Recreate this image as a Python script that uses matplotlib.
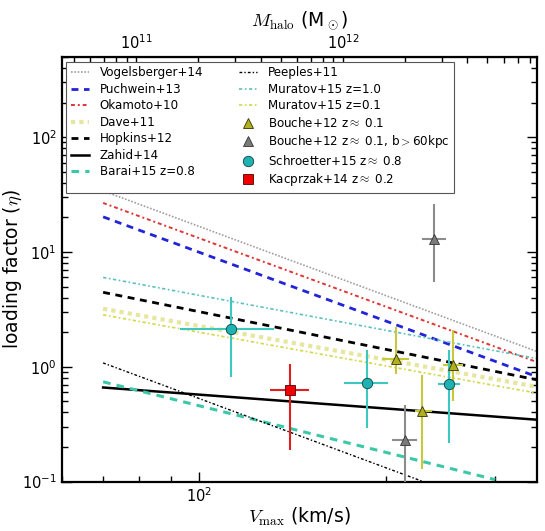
import matplotlib
matplotlib.use('Agg')
import matplotlib.pyplot as plt
from matplotlib.ticker import NullFormatter, FixedLocator
import numpy as np

plt.rcParams['font.family'] = ['DejaVu Sans']
plt.rcParams['mathtext.fontset'] = 'cm'

# model relations (power laws -> straight lines in log-log), V_max in km/s
v_vogelsberger, eta_vogelsberger = [70, 350], [34.0, 1.36]
v_puchwein, eta_puchwein = [70, 350], [20.2, 0.82]
v_okamoto, eta_okamoto = [70, 350], [26.7, 1.10]
v_dave, eta_dave = [70, 350], [3.2, 0.67]
v_hopkins, eta_hopkins = [70, 350], [4.45, 0.77]
v_zahid, eta_zahid = [70, 350], [0.66, 0.346]
v_barai, eta_barai = [70, 300], [0.74, 0.104]
v_peeples, eta_peeples = [70, 350], [1.08, 0.043]
v_muratov1, eta_muratov1 = [70, 350], [6.0, 1.18]
v_muratov01, eta_muratov01 = [70, 350], [2.83, 0.59]

# observations: value, lower and upper bounds
bouche_v = [207.4, 256.1, 228.3]
bouche_vlo = [197.3, 246.8, 222.7]
bouche_vhi = [217.8, 265.7, 237.2]
bouche_eta = [1.17, 1.04, 0.41]
bouche_lo = [0.87, 0.50, 0.128]
bouche_hi = [2.21, 2.10, 0.85]

bouche60_v = [214.7, 238.9]
bouche60_vlo = [204.3, 228.3]
bouche60_vhi = [224.1, 249.8]
bouche60_eta = [0.232, 12.9]
bouche60_lo = [0.05, 5.43]
bouche60_hi = [0.468, 26.0]

schroetter_v = [112.7, 186.5, 252.9]
schroetter_vlo = [93.1, 171.4, 242.8]
schroetter_vhi = [132.2, 201.3, 263.1]
schroetter_eta = [2.14, 0.722, 0.708]
schroetter_lo = [0.814, 0.294, 0.218]
schroetter_hi = [4.08, 1.405, 1.405]

kacprzak_v = [140.2]
kacprzak_vlo = [129.9]
kacprzak_vhi = [150.3]
kacprzak_eta = [0.622]
kacprzak_lo = [0.19]
kacprzak_hi = [1.055]

halo_ticks = [1e11, 1e12]
V_1E11 = 79.1   # V_max of a 1e11 Msun halo, M ~ V^3


def v2m(v):
    return 1e11 * (np.asarray(v, dtype=float) / V_1E11) ** 3


def m2v(m):
    return V_1E11 * (np.asarray(m, dtype=float) / 1e11) ** (1.0 / 3.0)


def err(val, lo, hi):
    val, lo, hi = np.array(val), np.array(lo), np.array(hi)
    return [val - lo, hi - val]


fig = plt.figure(figsize=(5.45, 5.31), dpi=100)
ax = fig.add_axes([0.113, 0.093, 0.872, 0.800])

handles = []
h, = ax.plot(v_vogelsberger, eta_vogelsberger, color='#a0a0a0', ls=(0, (1, 1)), lw=1.2, label='Vogelsberger+14')
handles.append(h)
h, = ax.plot(v_puchwein, eta_puchwein, color='#2323d8', ls=(0, (2.5, 2)), lw=2, label='Puchwein+13')
handles.append(h)
h, = ax.plot(v_okamoto, eta_okamoto, color='#e03535', ls=(0, (2, 1.5, 1, 1.5)), lw=1.4, label='Okamoto+10')
handles.append(h)
h, = ax.plot(v_dave, eta_dave, color='#e6e6a0', ls=(0, (1, 1)), lw=3, label='Dave+11')
handles.append(h)
h, = ax.plot(v_hopkins, eta_hopkins, color='black', ls=(0, (2.5, 2)), lw=2, label='Hopkins+12')
handles.append(h)
h, = ax.plot(v_zahid, eta_zahid, color='black', ls='-', lw=1.8, label='Zahid+14')
handles.append(h)
h, = ax.plot(v_barai, eta_barai, color='#3cc8a8', ls=(0, (2.5, 2)), lw=2.2, label='Barai+15 z=0.8')
handles.append(h)
h, = ax.plot(v_peeples, eta_peeples, color='black', ls=(0, (2, 1.5, 1, 1.5)), lw=1.0, label='Peeples+11')
handles.append(h)
h, = ax.plot(v_muratov1, eta_muratov1, color='#5cc0c0', ls=(0, (2, 1.5, 1, 1.5)), lw=1.2, label='Muratov+15 z=1.0')
handles.append(h)
h, = ax.plot(v_muratov01, eta_muratov01, color='#d6d64a', ls=(0, (2, 1.5, 1, 1.5)), lw=1.2, label='Muratov+15 z=0.1')
handles.append(h)

# error bars without legend entries, markers on top
ax.errorbar(bouche_v, bouche_eta, xerr=err(bouche_v, bouche_vlo, bouche_vhi),
            yerr=err(bouche_eta, bouche_lo, bouche_hi), fmt='none', ecolor='#c8c83a', elinewidth=1.5, capsize=0, zorder=4)
h, = ax.plot(bouche_v, bouche_eta, ls='none', marker='^', ms=7, mfc='#b0b020', mec='#333300', mew=0.6,
             zorder=5, label='Bouche+12 z$\\approx$ 0.1')
handles.append(h)
ax.errorbar(bouche60_v, bouche60_eta, xerr=err(bouche60_v, bouche60_vlo, bouche60_vhi),
            yerr=err(bouche60_eta, bouche60_lo, bouche60_hi), fmt='none', ecolor='#8c8c8c', elinewidth=1.5, capsize=0, zorder=4)
h, = ax.plot(bouche60_v, bouche60_eta, ls='none', marker='^', ms=7, mfc='#7a7a7a', mec='#333333', mew=0.6,
             zorder=5, label='Bouche+12 z$\\approx$ 0.1, b$>$60kpc')
handles.append(h)
ax.errorbar(schroetter_v, schroetter_eta, xerr=err(schroetter_v, schroetter_vlo, schroetter_vhi),
            yerr=err(schroetter_eta, schroetter_lo, schroetter_hi), fmt='none', ecolor='#3cc8c0', elinewidth=1.5, capsize=0, zorder=4)
h, = ax.plot(schroetter_v, schroetter_eta, ls='none', marker='o', ms=7.5, mfc='#1fb2b2', mec='#104040', mew=0.6,
             zorder=5, label='Schroetter+15 z$\\approx$ 0.8')
handles.append(h)
ax.errorbar(kacprzak_v, kacprzak_eta, xerr=err(kacprzak_v, kacprzak_vlo, kacprzak_vhi),
            yerr=err(kacprzak_eta, kacprzak_lo, kacprzak_hi), fmt='none', ecolor='#e02020', elinewidth=1.5, capsize=0, zorder=4)
h, = ax.plot(kacprzak_v, kacprzak_eta, ls='none', marker='s', ms=7, mfc='#ee0000', mec='#550000', mew=0.6,
             zorder=5, label='Kacprzak+14 z$\\approx$ 0.2')
handles.append(h)

ax.set_xscale('log')
ax.set_yscale('log')
ax.set_xlim(60, 350)
ax.set_ylim(0.1, 500)
ax.xaxis.set_minor_formatter(NullFormatter())
ax.yaxis.set_minor_formatter(NullFormatter())

for sp in ax.spines.values():
    sp.set_linewidth(1.6)
ax.tick_params(which='both', direction='in', right=True, top=False, labelsize=10.5)
ax.tick_params(which='major', length=7, width=1)
ax.tick_params(which='minor', length=4, width=1)

ax.set_xlabel('$V_{\\rm max}$ (km/s)', fontsize=13.5)
ax.xaxis.set_label_coords(0.5, -0.058)
ax.set_ylabel('loading factor ($\\eta$)', fontsize=13.5)
ax.yaxis.set_label_coords(-0.08, 0.5)

sec = ax.secondary_xaxis('top', functions=(v2m, m2v))
sec.xaxis.set_major_locator(FixedLocator(halo_ticks))
sec.xaxis.set_minor_formatter(NullFormatter())
sec.tick_params(which='both', direction='in', labelsize=10.5)
sec.tick_params(which='major', length=7, width=1)
sec.tick_params(which='minor', length=4, width=1)
sec.set_xlabel('$M_{\\rm halo}$ (M$_\\odot$)', fontsize=13.5, labelpad=5)

leg = ax.legend(handles=handles, ncol=2, loc='upper left', fontsize=8.6, frameon=True, fancybox=False,
                edgecolor='#555555', framealpha=1, handlelength=1.5, handletextpad=0.9,
                labelspacing=0.29, columnspacing=3.0, borderaxespad=0.4, numpoints=1)
leg.get_frame().set_linewidth(0.8)

fig.savefig('out.png', dpi=100)
